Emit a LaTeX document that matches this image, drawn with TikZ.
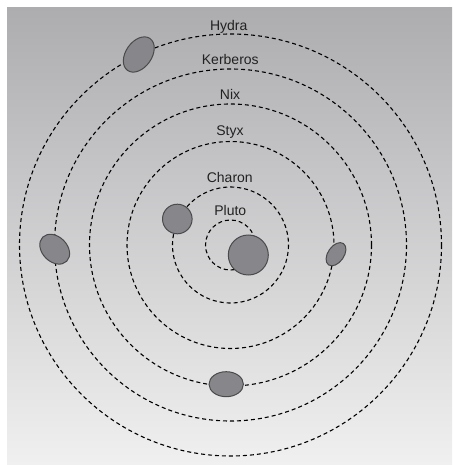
\documentclass[tikz,border=0pt]{standalone}
\usepackage{fontspec}
\setmainfont{Liberation Sans}
\usetikzlibrary{shapes.geometric}
\definecolor{bgtop}{HTML}{ADADB0}
\definecolor{bgbot}{HTML}{F0F0F0}
\definecolor{moonfill}{HTML}{87878B}
\definecolor{moonedge}{HTML}{4A4A4C}
\definecolor{txt}{HTML}{222222}
\tikzset{
  orbit/.style={draw=black, line width=1.1pt, dash pattern=on 4pt off 3pt},
  moon/.style={ellipse, draw=moonedge, fill=moonfill, line width=1pt, inner sep=0pt},
  lbl/.style={anchor=base, text=txt, font=\fontsize{14}{16}\selectfont, inner sep=0pt}
}
\begin{document}
\begin{tikzpicture}[x=1pt, y=-1pt]
\useasboundingbox (0,0) rectangle (452,465);
\shade[top color=bgtop, bottom color=bgbot] (7,7.5) rectangle (452,464.5);
\coordinate (bary) at (230.5,245);
% orbits
\draw[orbit] (bary) circle[radius=25];
\draw[orbit] (bary) circle[radius=58];
\draw[orbit] (bary) circle[radius=103.5];
\draw[orbit] (bary) circle[radius=141];
\draw[orbit] (bary) circle[radius=176];
\draw[orbit] (bary) circle[radius=211];
% bodies
\node[moon, circle, minimum size=40pt] (pluto) at (248.3,255) {};
\node[moon, circle, minimum size=29.6pt] (charon) at (177.3,219) {};
\node[moon, minimum width=26pt, minimum height=16pt, rotate=55] (styx) at (336,254.2) {};
\node[moon, minimum width=34.4pt, minimum height=25pt] (nix) at (226.2,384.2) {};
\node[moon, minimum width=34pt, minimum height=25pt, rotate=-45] (kerberos) at (54.7,249.2) {};
\node[moon, minimum width=39pt, minimum height=26pt, rotate=55] (hydra) at (138.8,54.5) {};
% labels
\node[lbl] (lhydra) at (228.7,30.7) {Hydra};
\node[lbl] (lkerberos) at (230.3,65) {Kerberos};
\node[lbl] (lnix) at (230,99.3) {Nix};
\node[lbl] (lstyx) at (230,136) {Styx};
\node[lbl] (lcharon) at (229.8,182.3) {Charon};
\node[lbl] (lpluto) at (230.3,215) {Pluto};
\end{tikzpicture}
\end{document}
